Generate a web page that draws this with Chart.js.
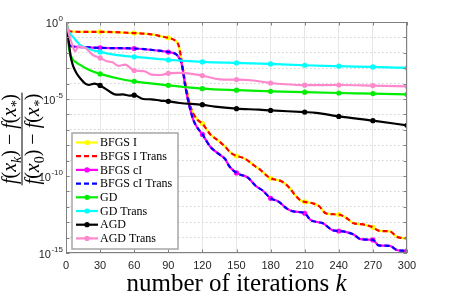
<!DOCTYPE html>
<html>
<head>
<meta charset="utf-8">
<script src="https://cdn.jsdelivr.net/npm/chart.js@4.4.1/dist/chart.umd.min.js"></script>
<style>
  html, body { margin: 0; padding: 0; background: #fff; }
  canvas { display: block; }
</style>
</head>
<body>
<canvas id="chart" width="449" height="299"></canvas>
<script>
// x ticks and y decades (log10 exponents)
const xTicks = [0, 30, 60, 90, 120, 150, 180, 210, 240, 270, 300];
const yDecades = [0, -1, -2, -3, -4, -5, -6, -7, -8, -9, -10, -11, -12, -13, -14, -15];
const yLabelled = [0, -5, -10, -15];

// values, as log10 of the relative error
const bfgsIIter = [0, 3, 15, 30, 60, 75, 85, 90, 96, 99, 101, 103, 106, 110, 115, 120, 127, 134, 140, 145, 150, 155, 160, 165, 171, 177, 180, 190, 197, 201, 207, 210, 217, 223, 228, 234, 240, 247, 253, 258, 263, 270, 275, 280, 285, 291, 295, 300];
const bfgsILog  = [0, -0.6, -0.64, -0.64, -0.72, -0.8, -0.95, -1.03, -1.2, -1.5, -2.2, -3.1, -4.4, -5.6, -6.3, -6.6, -7.3, -7.7, -8.1, -8.5, -8.7, -8.8, -9.0, -9.3, -9.6, -10.0, -10.15, -10.36, -10.8, -11.2, -11.62, -11.68, -11.77, -11.98, -12.4, -12.48, -12.5, -12.74, -13.07, -13.12, -13.17, -13.33, -13.55, -13.58, -13.6, -13.94, -14.02, -14.05];

const bfgsCIIter = [0, 3, 10, 30, 60, 80, 90, 97, 100, 102, 105, 109, 112, 115, 120, 127, 135, 140, 144, 150, 153, 160, 167, 173, 180, 187, 194, 200, 210, 215, 222, 226, 234, 240, 244, 253, 259, 265, 270, 275, 285, 291, 296, 300];
const bfgsCILog  = [0, -1.5, -1.62, -1.68, -1.72, -1.85, -1.95, -2.1, -2.4, -2.8, -4.2, -5.6, -6.35, -6.8, -7.3, -8.1, -8.6, -8.9, -9.4, -9.8, -9.9, -10.1, -10.65, -10.94, -11.45, -11.66, -12.1, -12.3, -12.42, -12.85, -13.0, -13.07, -13.5, -13.57, -13.6, -13.8, -14.1, -14.13, -14.15, -14.5, -14.54, -14.8, -14.85, -14.86];

const gdIter = [0, 3, 6, 9, 12, 20, 30, 45, 60, 90, 120, 150, 180, 210, 240, 270, 300];
const gdLog  = [0, -1.85, -2.44, -2.62, -2.77, -3.1, -3.37, -3.65, -3.85, -4.11, -4.33, -4.43, -4.5, -4.56, -4.61, -4.65, -4.7];

const gdTransIter = [0, 3, 6, 12, 20, 30, 45, 60, 90, 120, 150, 180, 210, 240, 270, 300];
const gdTransLog  = [0, -0.7, -0.95, -1.46, -1.75, -1.94, -2.15, -2.26, -2.46, -2.59, -2.66, -2.72, -2.81, -2.87, -2.92, -2.98];

const agdIter = [0, 2, 4, 6, 9, 13, 17, 20, 25, 30, 38, 44, 50, 56, 60, 68, 75, 83, 90, 100, 120, 131, 150, 170, 180, 210, 220, 240, 270, 300];
const agdLog  = [0, -1.0, -2.2, -2.8, -3.3, -3.7, -4.0, -4.08, -4.0, -4.12, -4.5, -4.72, -4.7, -4.78, -4.75, -5.0, -5.02, -5.1, -5.15, -5.26, -5.37, -5.5, -5.63, -5.69, -5.74, -5.85, -5.9, -6.13, -6.41, -6.71];

const agdTransIter = [0, 3, 6, 8, 11, 14, 17, 24, 30, 36, 41, 46, 52, 60, 69, 75, 83, 90, 100, 120, 135, 150, 165, 180, 210, 240, 270, 300];
const agdTransLog  = [0, -0.9, -1.6, -1.9, -1.6, -1.62, -1.68, -2.16, -2.33, -2.55, -2.62, -2.85, -2.77, -3.15, -3.2, -3.42, -3.44, -3.33, -3.3, -3.48, -3.72, -3.74, -3.8, -3.96, -4.1, -4.09, -4.13, -4.18];

const seriesNames = ['BFGS I', 'BFGS I Trans', 'BFGS cI', 'BFGS cI Trans', 'GD', 'GD Trans', 'AGD', 'AGD Trans'];
const seriesColors = ['#ffff00', '#ff0000', '#ff00ff', '#0000ff', '#00ee00', '#00ffff', '#000000', '#ff88cc'];
const seriesDashed = [false, true, false, true, false, false, false, false];
const seriesMarked = [true, false, true, false, true, true, true, true];
const seriesIters = [bfgsIIter, bfgsIIter, bfgsCIIter, bfgsCIIter, gdIter, gdTransIter, agdIter, agdTransIter];
const seriesLogs = [bfgsILog, bfgsILog, bfgsCILog, bfgsCILog, gdLog, gdTransLog, agdLog, agdTransLog];

const SERIF = '"Liberation Serif", "DejaVu Serif", serif';
const SANS = '"Liberation Sans", Arial, sans-serif';

const datasets = seriesNames.map((name, i) => ({
    label: name,
    data: seriesIters[i].map((k, j) => ({ x: k, y: Math.pow(10, seriesLogs[i][j]) })),
    borderColor: seriesColors[i],
    backgroundColor: seriesColors[i],
    borderWidth: 2.2,
    borderDash: seriesDashed[i] ? [5, 3] : [],
    cubicInterpolationMode: 'monotone',
    pointRadius: ctx => (seriesMarked[i] && ctx.raw && ctx.raw.x % 30 === 0) ? 2.6 : 0,
    pointBorderWidth: 0,
    order: seriesNames.length - i   // later series on top, like the original
}));

// draws a run of text pieces (italic / subscript) centred on x
function drawRuns(ctx, runs, x, y, size) {
    const fontOf = r => (r.it ? 'italic ' : '') + Math.round(size * (r.sub ? 0.7 : 1)) + 'px ' + SERIF;
    let w = 0;
    runs.forEach(r => { ctx.font = fontOf(r); w += ctx.measureText(r.t).width; });
    let cx = x - w / 2;
    runs.forEach(r => {
        ctx.font = fontOf(r);
        ctx.fillText(r.t, cx, y + (r.sub ? size * 0.25 : 0));
        cx += ctx.measureText(r.t).width;
    });
    return w;
}

const labelsPlugin = {
    id: 'labels',
    afterDraw(chart) {
        const ctx = chart.ctx;
        const area = chart.chartArea;
        const ys = chart.scales.y;
        ctx.save();
        ctx.fillStyle = '#000';
        ctx.textBaseline = 'alphabetic';

        // y label, stacked fraction
        const size = 20;
        ctx.translate(23, 139);
        ctx.rotate(-Math.PI / 2);
        const num = [{ t: 'f', it: 1 }, { t: '(' }, { t: 'x', it: 1 }, { t: 'k', it: 1, sub: 1 }, { t: ')' }, { t: ' \u2212 ' }, { t: 'f', it: 1 }, { t: '(' }, { t: 'x', it: 1 }, { t: '*', it: 1, sub: 1 }, { t: ')' }];
        const den = [{ t: 'f', it: 1 }, { t: '(' }, { t: 'x', it: 1 }, { t: '0', sub: 1 }, { t: ')' }, { t: ' \u2212 ' }, { t: 'f', it: 1 }, { t: '(' }, { t: 'x', it: 1 }, { t: '*', it: 1, sub: 1 }, { t: ')' }];
        const w1 = drawRuns(ctx, num, 0, -7, size);
        const w2 = drawRuns(ctx, den, 0, 16, size);
        const bw = Math.max(w1, w2) + 2;
        ctx.fillRect(-bw / 2, -1.5, bw, 1);
        ctx.setTransform(1, 0, 0, 1, 0, 0);

        // x label
        drawRuns(ctx, [{ t: 'number of iterations ' }, { t: 'k', it: 1 }], (area.left + area.right) / 2, 291, 24.5);

        // y tick labels 10^e
        ctx.fillStyle = '#262626';
        ctx.textBaseline = 'middle';
        yLabelled.forEach(e => {
            const py = ys.getPixelForValue(Math.pow(10, e));
            const exp = String(e);
            ctx.font = '8px ' + SANS;
            const we = ctx.measureText(exp).width;
            ctx.textAlign = 'left';
            ctx.fillText(exp, 63 - we, py - 3.5);
            ctx.font = '11px ' + SANS;
            ctx.textAlign = 'right';
            ctx.fillText('10', 63 - we - 0.5, py + 2);
        });
        ctx.restore();
    }
};

const framePlugin = {
    id: 'frame',
    afterDatasetsDraw(chart) {
        const ctx = chart.ctx;
        const a = chart.chartArea;
        const xs = chart.scales.x, ys = chart.scales.y;
        ctx.save();
        ctx.strokeStyle = '#808080';
        ctx.lineWidth = 1;
        ctx.beginPath();
        ctx.rect(a.left + 0.5, a.top + 0.5, a.right - a.left - 1, a.bottom - a.top - 1);
        xTicks.forEach(v => {
            const px = Math.round(xs.getPixelForValue(v)) + 0.5;
            ctx.moveTo(px, a.bottom); ctx.lineTo(px, a.bottom - 3.5);
            ctx.moveTo(px, a.top); ctx.lineTo(px, a.top + 3.5);
        });
        yDecades.forEach(e => {
            const py = Math.round(ys.getPixelForValue(Math.pow(10, e))) + 0.5;
            ctx.moveTo(a.left, py); ctx.lineTo(a.left + 3.5, py);
            ctx.moveTo(a.right, py); ctx.lineTo(a.right - 3.5, py);
        });
        ctx.stroke();
        ctx.restore();
    }
};

const legendPlugin = {
    id: 'boxLegend',
    afterDraw(chart) {
        const ctx = chart.ctx;
        const x0 = 72, y0 = 133, w = 106, h = 116, rowH = 13.7;
        ctx.save();
        ctx.fillStyle = '#fff';
        ctx.fillRect(x0, y0, w, h);
        ctx.strokeStyle = '#a6a6a6';
        ctx.lineWidth = 1.5;
        ctx.strokeRect(x0, y0, w, h);
        seriesNames.forEach((name, i) => {
            const y = y0 + 9.5 + i * rowH;
            ctx.strokeStyle = seriesColors[i];
            ctx.fillStyle = seriesColors[i];
            ctx.lineWidth = 2.2;
            ctx.setLineDash(seriesDashed[i] ? [5, 3] : []);
            ctx.beginPath();
            ctx.moveTo(76, y); ctx.lineTo(98, y);
            ctx.stroke();
            ctx.setLineDash([]);
            if (seriesMarked[i]) {
                ctx.beginPath();
                ctx.arc(87, y, 2.6, 0, Math.PI * 2);
                ctx.fill();
            }
            ctx.fillStyle = '#000';
            ctx.font = '12px ' + SERIF;
            ctx.textBaseline = 'middle';
            ctx.fillText(name, 100, y + 0.5);
        });
        ctx.restore();
    }
};

new Chart(document.getElementById('chart'), {
    type: 'line',
    data: { datasets },
    options: {
        responsive: false,
        animation: false,
        layout: { padding: { left: 0, right: 42, top: 22, bottom: 0 } },
        plugins: { legend: { display: false }, tooltip: { enabled: false } },
        scales: {
            x: {
                type: 'linear',
                min: 0, max: 300,
                afterBuildTicks: s => { s.ticks = xTicks.map(v => ({ value: v })); },
                afterFit: s => { s.height = 46; },
                ticks: { color: '#262626', font: { family: SANS, size: 11 }, padding: 6, maxRotation: 0, autoSkip: false },
                grid: { color: '#e6e6e6', lineWidth: 1, drawTicks: false },
                border: { display: false }
            },
            y: {
                type: 'logarithmic',
                min: 1e-15, max: 1,
                afterBuildTicks: s => { s.ticks = yDecades.map(e => ({ value: Math.pow(10, e) })); },
                afterFit: s => { s.width = 66; },
                ticks: { display: false, autoSkip: false },
                grid: {
                    drawTicks: false,
                    color: ctx => {
                        const e = ctx.tick ? Math.round(Math.log10(ctx.tick.value)) : 0;
                        return e % 5 === 0 ? '#e6e6e6' : '#d0d0d0';
                    }
                },
                border: {
                    display: false,
                    dash: ctx => {
                        if (!ctx.tick) return [];
                        const e = Math.round(Math.log10(ctx.tick.value));
                        return e % 5 === 0 ? [] : [1.5, 2.5];
                    }
                }
            }
        }
    },
    plugins: [framePlugin, labelsPlugin, legendPlugin]
});
</script>
</body>
</html>
